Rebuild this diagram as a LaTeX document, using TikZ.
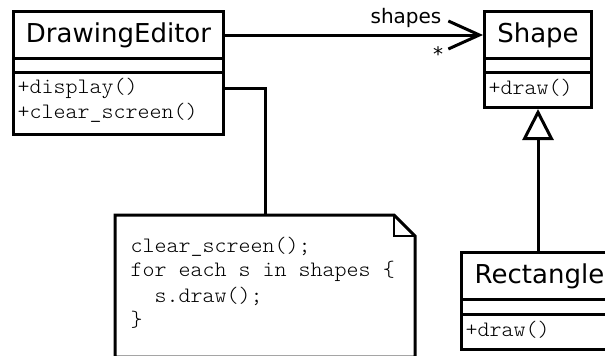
\documentclass[tikz,border=0pt]{standalone}
\usepackage{fontspec}
\setmainfont{DejaVu Sans}
\newfontfamily\codefont[FakeStretch=1.04, Extension=.otf]{lmmonolt10-regular}
\usetikzlibrary{arrows.meta}
\begin{document}
\begin{tikzpicture}[x=1pt,y=-1pt, line width=3pt,
  title/.style={draw, line width=3pt, anchor=north west, inner sep=0pt, font=\fontsize{26}{30}\selectfont},
  comp/.style={draw, line width=3pt, anchor=north west, inner sep=0pt},
  meth/.style={anchor=west, inner sep=0pt, font=\codefont\fontsize{22}{26}\selectfont},
  lbl/.style={inner sep=0pt, font=\fontsize{20}{24}\selectfont},
  assoc/.style={line width=3pt, -{Straight Barb[length=31pt,width=28pt,line width=3pt]}},
  gen/.style={line width=3pt, -{Triangle[open,length=31pt,width=31pt,line width=3pt]}},
  notebox/.style={anchor=north west, inner sep=0pt, minimum width=297pt, minimum height=139pt}]
\useasboundingbox (0,0) rectangle (605,356);

% DrawingEditor
\node[title, minimum width=210pt, minimum height=47pt] (de) at (12,10) {DrawingEditor};
\node[comp, minimum width=210pt, minimum height=14pt] (deA) at (12,57) {};
\node[comp, minimum width=210pt, minimum height=62pt] (deO) at (12,71) {};
\node[meth] (deM1) at (16,88) {+display()};
\node[meth] (deM2) at (16,113) {+clear\_screen()};

% Shape
\node[title, minimum width=107pt, minimum height=47pt] (sh) at (483,10) {Shape};
\node[comp, minimum width=107pt, minimum height=14pt] (shA) at (483,57) {};
\node[comp, minimum width=107pt, minimum height=35pt] (shO) at (483,71) {};
\node[meth] (shM) at (487,88) {+draw()};

% Rectangle
\node[title, minimum width=156pt, minimum height=47pt] (re) at (460,251) {Rectangle};
\node[comp, minimum width=156pt, minimum height=15pt] (reA) at (460,298) {};
\node[comp, minimum width=156pt, minimum height=35pt] (reO) at (460,313) {};
\node[meth] (reM) at (464,330) {+draw()};

% Note
\node[notebox] (note) at (115,215) {};
\draw[line join=miter] (note.north west) -- ([xshift=-21pt]note.north east) -- ([yshift=-21pt]note.north east) -- (note.south east) -- (note.south west) -- cycle;
\draw[line width=1.5pt] ([xshift=-21pt]note.north east) -- ([xshift=-21pt,yshift=-21pt]note.north east) -- ([yshift=-21pt]note.north east);
\node[meth] (n1) at (129,247) {clear\_screen();};
\node[meth] (n2) at (129,271) {for each s in shapes \{};
\node[meth] (n3) at (129,296) {\ \ s.draw();};
\node[meth] (n4) at (129,320) {\}};

% connectors
\draw[assoc] (de.east) -- (sh.west);
\node[lbl] (lshapes) at (406,18) {shapes};
\node[lbl] (lstar) at (438,54) {*};
\draw[gen] (shO.south |- re.north) -- (shO.south);
\draw (deO.east |- deM1) -| (note.north);
\end{tikzpicture}
\end{document}
